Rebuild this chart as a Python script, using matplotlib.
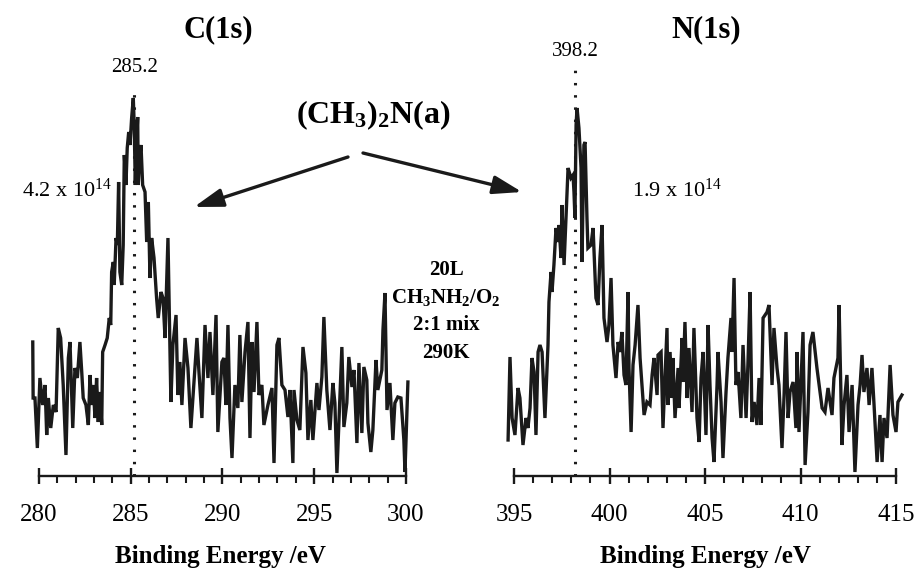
import matplotlib.pyplot as plt
from matplotlib.ticker import MultipleLocator

plt.rcParams['font.family'] = 'Liberation Serif'
plt.rcParams['mathtext.fontset'] = 'custom'
plt.rcParams['mathtext.rm'] = 'Liberation Serif'
plt.rcParams['mathtext.bf'] = 'Liberation Serif:bold'
plt.rcParams['mathtext.it'] = 'Liberation Serif:italic'

# C(1s) spectrum, binding energy (eV) vs intensity (arb. units)
c_energy = [
    279.66, 279.68, 279.78, 279.91, 280.05, 280.20, 280.33, 280.42, 280.51, 280.64,
    280.78, 280.93, 281.05, 281.18, 281.32, 281.47, 281.60, 281.69, 281.84, 281.96,
    282.09, 282.23, 282.33, 282.41, 282.56, 282.69, 282.78, 282.87, 282.96, 283.05,
    283.14, 283.23, 283.32, 283.42, 283.47, 283.60, 283.72, 283.83, 283.91, 283.96,
    284.05, 284.10, 284.20, 284.27, 284.34, 284.41, 284.51, 284.59, 284.65, 284.74,
    284.81, 284.89, 284.96, 285.05, 285.14, 285.19, 285.25, 285.32, 285.38, 285.41,
    285.47, 285.56, 285.65, 285.78, 285.87, 285.96, 286.05, 286.14, 286.27, 286.41,
    286.50, 286.65, 286.76, 286.87, 287.03, 287.19, 287.30, 287.47, 287.57, 287.68,
    287.79, 287.96, 288.12, 288.28, 288.39, 288.61, 288.72, 288.88, 289.05, 289.21,
    289.32, 289.48, 289.65, 289.75, 289.97, 290.08, 290.19, 290.30, 290.41, 290.52,
    290.68, 290.84, 290.95, 291.06, 291.23, 291.39, 291.50, 291.61, 291.72, 291.88,
    291.99, 292.15, 292.26, 292.48, 292.70, 292.81, 292.97, 293.08, 293.24, 293.41,
    293.57, 293.68, 293.84, 293.90, 294.06, 294.22, 294.39, 294.55, 294.66, 294.82,
    294.93, 295.15, 295.26, 295.42, 295.53, 295.69, 295.86, 296.02, 296.13, 296.24,
    296.40, 296.51, 296.62, 296.78, 296.89, 297.06, 297.17, 297.33, 297.44, 297.60,
    297.71, 297.87, 297.93, 298.09, 298.20, 298.37, 298.47, 298.69, 298.75, 298.86,
    298.97, 299.13, 299.29, 299.40, 299.56, 299.73, 299.89, 299.95, 300.11,
]
c_counts = [
    134, 78, 78, 28, 98, 71, 91, 41, 78, 48,
    71, 64, 148, 138, 91, 21, 118, 134, 48, 108,
    98, 134, 104, 78, 71, 51, 101, 71, 91, 58,
    98, 54, 84, 51, 124, 131, 138, 158, 151, 204,
    214, 191, 238, 231, 294, 204, 191, 231, 321, 291,
    328, 344, 331, 358, 378, 351, 291, 334, 359, 291,
    314, 331, 291, 284, 234, 274, 198, 238, 218, 178,
    158, 184, 178, 138, 238, 74, 131, 161, 81, 114,
    71, 138, 108, 48, 78, 138, 104, 58, 151, 98,
    144, 81, 161, 44, 114, 118, 71, 151, 58, 18,
    91, 68, 141, 74, 124, 154, 38, 134, 84, 154,
    81, 91, 51, 71, 88, 13, 131, 138, 91, 86,
    59, 86, 13, 86, 56, 46, 129, 103, 36, 76,
    36, 93, 66, 99, 159, 86, 46, 93, 73, 3,
    79, 129, 49, 73, 119, 89, 106, 33, 113, 43,
    109, 96, 53, 24, 46, 116, 86, 106, 146, 183,
    66, 93, 36, 73, 79, 78, 36, 4, 94,
]

# N(1s) spectrum
n_energy = [
    394.69, 394.79, 394.90, 395.05, 395.21, 395.31, 395.47, 395.63, 395.73, 395.84,
    395.94, 396.05, 396.15, 396.26, 396.36, 396.47, 396.62, 396.78, 396.83, 396.94,
    396.99, 397.09, 397.20, 397.30, 397.36, 397.46, 397.51, 397.62, 397.77, 397.83,
    397.98, 398.09, 398.14, 398.19, 398.25, 398.30, 398.40, 398.51, 398.56, 398.66,
    398.72, 398.82, 398.87, 399.03, 399.14, 399.29, 399.40, 399.50, 399.61, 399.71,
    399.87, 399.97, 400.08, 400.18, 400.34, 400.45, 400.55, 400.65, 400.76, 400.86,
    400.97, 401.02, 401.13, 401.23, 401.34, 401.44, 401.49, 401.60, 401.70, 401.81,
    401.96, 402.12, 402.23, 402.33, 402.49, 402.54, 402.70, 402.80, 403.01, 403.06,
    403.17, 403.27, 403.32, 403.43, 403.59, 403.64, 403.80, 403.85, 403.95, 404.06,
    404.16, 404.32, 404.42, 404.58, 404.69, 404.79, 404.90, 405.05, 405.16, 405.26,
    405.37, 405.47, 405.63, 405.68, 405.84, 405.94, 406.10, 406.20, 406.36, 406.41,
    406.52, 406.62, 406.73, 406.88, 406.99, 407.15, 407.25, 407.36, 407.46, 407.57,
    407.72, 407.83, 407.93, 408.04, 408.25, 408.35, 408.51, 408.61, 408.77, 408.87,
    409.03, 409.14, 409.24, 409.35, 409.45, 409.61, 409.76, 409.82, 409.92, 410.13,
    410.24, 410.39, 410.50, 410.65, 410.86, 411.13, 411.28, 411.44, 411.65, 411.75,
    411.96, 412.02, 412.17, 412.28, 412.43, 412.54, 412.70, 412.85, 413.01, 413.12,
    413.22, 413.32, 413.48, 413.59, 413.74, 413.85, 414.01, 414.16, 414.27, 414.37,
    414.53, 414.69, 414.84, 415.00, 415.10, 415.31,
]
n_counts = [
    36, 119, 58, 41, 88, 78, 31, 58, 48, 68,
    118, 104, 41, 124, 131, 124, 58, 131, 174, 204,
    184, 211, 248, 234, 251, 218, 271, 211, 281, 308,
    298, 301, 284, 258, 351, 368, 348, 308, 214, 331,
    334, 258, 228, 231, 248, 178, 171, 218, 251, 158,
    134, 151, 198, 131, 98, 134, 124, 144, 101, 91,
    184, 108, 44, 111, 131, 158, 171, 118, 91, 61,
    74, 71, 101, 118, 81, 121, 124, 48, 148, 71,
    124, 78, 118, 58, 108, 68, 138, 94, 154, 78,
    128, 64, 148, 58, 34, 98, 124, 41, 151, 91,
    38, 14, 91, 124, 74, 18, 84, 118, 158, 124,
    198, 91, 104, 58, 131, 58, 114, 184, 54, 74,
    51, 98, 51, 158, 164, 171, 91, 148, 108, 91,
    28, 81, 144, 58, 84, 94, 48, 124, 44, 144,
    11, 64, 131, 144, 108, 68, 64, 88, 61, 98,
    118, 171, 31, 71, 101, 44, 91, 4, 71, 91,
    121, 84, 108, 71, 108, 71, 14, 61, 14, 58,
    38, 111, 61, 44, 74, 81,
]

c_peak = 285.2
n_peak = 398.2
c_coverage = r'4.2 x 10$^{14}$'
n_coverage = r'1.9 x 10$^{14}$'
conditions = ['20L', r'CH$_\mathbf{3}$NH$_\mathbf{2}$/O$_\mathbf{2}$', '2:1 mix', '290K']

W, H = 916, 571
INK = '#1a1a1a'


def at(x, y):
    # image pixel (from top-left) -> figure fraction
    return x / W, 1 - y / H


def panel(rect, energy, counts, lo, hi, pad_r, peak, dot_top, label_y):
    ax = fig.add_axes(rect)
    ax.plot(energy, counts, color=INK, lw=2.4, clip_on=False, solid_joinstyle='miter')
    ax.set_xlim(lo - 0.4, hi + pad_r)
    ax.set_ylim(0, 390)
    for s in ('left', 'right', 'top'):
        ax.spines[s].set_visible(False)
    ax.spines['bottom'].set_bounds(lo, hi)
    ax.spines['bottom'].set_linewidth(1.7)
    ax.spines['bottom'].set_color(INK)
    ax.set_yticks([])
    ax.xaxis.set_major_locator(MultipleLocator(5))
    ax.xaxis.set_minor_locator(MultipleLocator(1))
    ax.tick_params(axis='x', which='major', direction='inout', length=12, width=1.7,
                   labelsize=18, pad=14, color=INK)
    ax.tick_params(axis='x', which='minor', direction='out', length=5, width=1.5, color=INK)
    ax.set_xlabel('Binding Energy /eV', fontsize=18, fontweight='bold', labelpad=14)
    ax.plot([peak, peak], [0, dot_top], color=INK, lw=2.2, ls=(0, (0.8, 3.2)), clip_on=False)
    ax.text(peak, label_y, '%.1f' % peak, ha='center', va='center', fontsize=15)
    ax.patch.set_alpha(0)
    return ax


fig = plt.figure(figsize=(W / 100, H / 100), dpi=100)

bottom = (H - 476) / H
height = 390 / H
ax_c = panel([31.66 / W, bottom, 377.9 / W, height], c_energy, c_counts,
             280, 300, 0.2, c_peak, 389, 408)
ax_n = panel([506.36 / W, bottom, 397.3 / W, height], n_energy, n_counts,
             395, 415, 0.4, n_peak, 408, 424)

fig.text(*at(218, 30), 'C(1s)', ha='center', va='center', fontsize=22, fontweight='bold')
fig.text(*at(706, 30), 'N(1s)', ha='center', va='center', fontsize=22, fontweight='bold')
fig.text(*at(373, 115), r'(CH$_\mathbf{3}$)$_\mathbf{2}$N(a)', ha='center', va='center',
         fontsize=23, fontweight='bold')
fig.text(*at(22, 190), c_coverage, ha='left', va='center', fontsize=16)
fig.text(*at(632, 190), n_coverage, ha='left', va='center', fontsize=16)

for i, line in enumerate(conditions):
    fig.text(*at(446, 270 + 27.5 * i), line, ha='center', va='center',
             fontsize=15, fontweight='bold')

arrow = dict(arrowstyle='-|>,head_length=1.1,head_width=0.35', lw=2.4, color=INK,
             shrinkA=0, shrinkB=0, mutation_scale=16)
plt.annotate('', xy=(194, H - 207), xytext=(348, H - 157), xycoords='figure pixels',
             textcoords='figure pixels', arrowprops=arrow)
plt.annotate('', xy=(522, H - 192), xytext=(363, H - 153), xycoords='figure pixels',
             textcoords='figure pixels', arrowprops=arrow)

fig.savefig('out.png', dpi=100)
